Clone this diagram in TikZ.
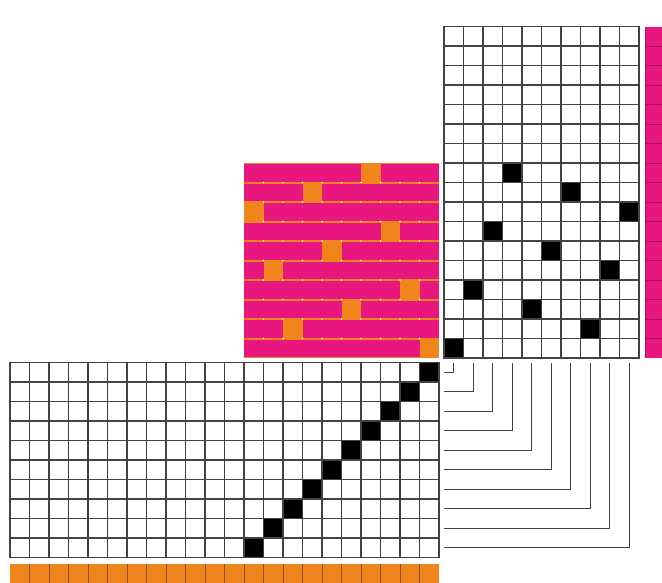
\documentclass[tikz,border=0pt]{standalone}
\definecolor{mag}{RGB}{232,22,127}
\definecolor{org}{RGB}{240,133,30}
\definecolor{gl}{RGB}{70,64,64}
\begin{document}
\begin{tikzpicture}[x=1pt,y=-1pt,
  gridline/.style={draw=gl,line width=1.3pt},
  link/.style={draw=gl,line width=1.2pt},
  cellfill/.style={fill=black},
  magdiv/.style={draw=mag!72!black,line width=0.8pt},
  orgdiv/.style={draw=org!62!black,line width=0.9pt}]
\useasboundingbox (0,0) rectangle (662,582);

% ---------- tie-up / treadling grid (top right) ----------
\foreach \r in {0,...,9}{
  \pgfmathtruncatemacro\b{mod(7*\r,10)}
  \fill[cellfill] (444+\b*19.5,358-\r*19.5) rectangle (463.5+\b*19.5,338.5-\r*19.5);
}
\foreach \i in {0,...,10} \draw[gridline] (444+\i*19.5,26.5) -- (444+\i*19.5,358);
\foreach \j in {0,...,17} \draw[gridline] (443.35,26.5+\j*19.5) -- (639.65,26.5+\j*19.5);

% ---------- magenta weft strip (right edge) ----------
\fill[mag] (645,26.5) rectangle (664,358);
\draw[magdiv] (645,26.5) -- (645,358);
\foreach \j in {1,...,16} \draw[magdiv] (645,26.5+\j*19.5) -- (664,26.5+\j*19.5);

% ---------- cloth drawdown ----------
\fill[org] (244,163) rectangle (439,358);
\foreach \r in {0,...,9}{
  \pgfmathtruncatemacro\c{9-mod(7*\r,10)}
  \pgfmathsetmacro\yt{358-(\r+1)*19.5}
  \ifnum\c>0 \fill[mag] (244,\yt+1) rectangle (244+\c*19.5,\yt+18.5);\fi
  \ifnum\c<9 \fill[mag] (263.5+\c*19.5,\yt+1) rectangle (439,\yt+18.5);\fi
}
\foreach \k in {1,...,9}
  \foreach \m in {1,...,9}
    \fill[white] (244+\m*19.5,163+\k*19.5) circle (0.8);

% ---------- threading grid (bottom left) ----------
\foreach \c in {0,...,9}
  \fill[cellfill] (244+\c*19.5,362.5+\c*19.5*0+19.5*9-\c*19.5) rectangle (263.5+\c*19.5,382+19.5*9-\c*19.5);
\foreach \i in {0,...,22} \draw[gridline] (10+\i*19.5,362.5) -- (10+\i*19.5,557.5);
\foreach \j in {0,...,10} \draw[gridline] (9.35,362.5+\j*19.5) -- (439.65,362.5+\j*19.5);

% ---------- orange warp strip (bottom edge) ----------
\fill[org] (10,564) rectangle (439,584);
\foreach \i in {1,...,21} \draw[orgdiv] (10+\i*19.5,564) -- (10+\i*19.5,584);

% ---------- shaft-to-treadle connectors ----------
\foreach \i in {0,...,9}{
  \coordinate (t\i) at (444,372.25+\i*19.5);
  \coordinate (c\i) at (453.75+\i*19.5,362.5);
  \draw[link] (t\i) -| (c\i);
}
\end{tikzpicture}
\end{document}
